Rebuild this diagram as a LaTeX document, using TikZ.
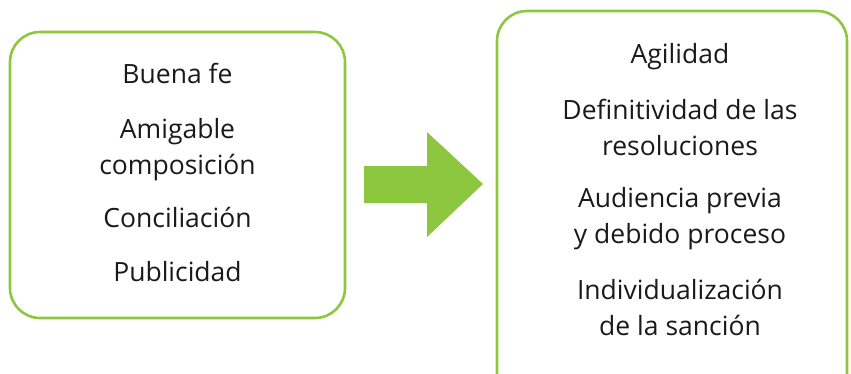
\documentclass[tikz,border=0pt]{standalone}
\usepackage{fontspec}
\setmainfont{Open Sans}
\definecolor{lg}{HTML}{8DC63F}
\definecolor{tx}{HTML}{1A1A1A}
\begin{document}
\begin{tikzpicture}[x=1pt,y=-1pt,
  box/.style={draw=lg, line width=2.6pt, rounded corners=30pt},
  item/.style={font=\fontsize{26.5}{36}\selectfont, align=center, anchor=base, inner sep=0pt, text=tx}]
\useasboundingbox (0,0) rectangle (851,373);
\clip (0,0) rectangle (851,373);
\draw[box] (10,32) rectangle (345,318);
\draw[box] (497,11) rectangle (847,420);
\coordinate (a1) at (364,166);
\coordinate (a2) at (427,166);
\coordinate (a3) at (427,132);
\coordinate (a4) at (483,184);
\coordinate (a5) at (427,237);
\coordinate (a6) at (427,203);
\coordinate (a7) at (364,203);
\fill[lg] (a1) -- (a2) -- (a3) -- (a4) -- (a5) -- (a6) -- (a7) -- cycle;
\node[item] (l1) at (177.5,83) {Buena fe};
\node[item] (l2) at (177.5,174) {Amigable\\composición};
\node[item] (l3) at (177.5,227) {Conciliación};
\node[item] (l4) at (177.5,281) {Publicidad};
\node[item] (r1) at (680,63) {Agilidad};
\node[item] (r2) at (680,155) {Definitividad de las\\resoluciones};
\node[item] (r3) at (680,243) {Audiencia previa\\y debido proceso};
\node[item] (r4) at (680,335) {Individualización\\de la sanción};
\end{tikzpicture}
\end{document}
